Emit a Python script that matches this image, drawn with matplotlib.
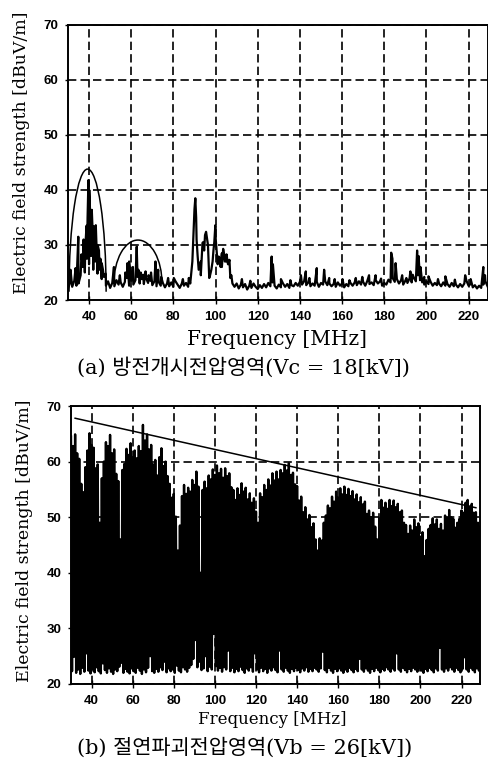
import numpy as np
import matplotlib.pyplot as plt
from matplotlib.patches import Arc

# ---- (a) discharge inception region: baseline per MHz + narrow spikes ----
freq_a = np.arange(30, 230)
level_a = [
    22.0, 23.2, 22.4, 23.5, 22.6, 23.0, 24.5, 26.0, 25.0, 27.5,  # 30
    26.5, 28.0, 25.5, 27.0, 24.8, 25.5, 23.8, 24.2, 22.6, 23.4,  # 40
    22.2, 23.1, 22.5, 23.6, 22.8, 23.2, 22.4, 23.3, 24.0, 22.6,  # 50
    23.5, 22.8, 23.6, 24.2, 23.0, 23.8, 22.9, 24.0, 23.1, 23.5,  # 60
    22.7, 23.4, 22.5, 23.3, 22.6, 23.1, 22.3, 23.0, 22.5, 23.2,  # 70
    22.4, 23.4, 22.8, 22.2, 23.0, 22.6, 23.1, 22.4, 23.0, 27.0,  # 80
    36.5, 31.0, 25.5, 27.0, 30.5, 31.8, 31.0, 24.0, 25.5, 29.0,  # 90
    31.5, 26.5, 27.5, 26.0, 28.5, 27.0, 26.5, 24.0, 23.0, 22.4,  # 100
    23.0, 22.1, 22.8, 22.3, 22.9, 21.9, 22.6, 22.2, 23.0, 22.4,  # 110
    22.0, 22.7, 22.2, 22.9, 22.3, 23.1, 22.5, 23.2, 22.6, 22.1,  # 120
    22.8, 22.3, 23.0, 22.4, 22.9, 22.2, 22.7, 22.5, 23.1, 22.6,  # 130
    23.3, 22.8, 23.4, 22.7, 23.2, 22.5, 23.0, 22.6, 23.3, 22.4,  # 140
    23.1, 22.8, 23.4, 22.7, 23.0, 22.5, 22.9, 22.4, 23.2, 22.6,  # 150
    23.0, 22.3, 22.9, 22.5, 23.1, 22.6, 23.2, 22.7, 23.4, 22.8,  # 160
    23.3, 22.6, 23.5, 22.9, 23.2, 22.7, 23.6, 23.0, 23.4, 22.6,  # 170
    23.1, 22.8, 23.7, 23.2, 24.0, 23.3, 23.8, 23.0, 23.6, 22.8,  # 180
    23.5, 23.1, 23.9, 23.2, 24.1, 23.4, 24.5, 23.6, 23.2, 22.8,  # 190
    23.4, 22.9, 23.3, 22.6, 23.1, 22.7, 23.0, 22.5, 23.2, 22.6,  # 200
    22.9, 22.4, 23.1, 22.5, 22.8, 22.3, 22.9, 22.4, 23.0, 23.5,  # 210
    22.6, 22.9, 22.3, 22.7, 22.1, 22.6, 22.2, 22.8, 23.4, 22.5,  # 220
]
spike_freq_a = [
    31.2, 33.6, 34.9, 36.4, 37.4, 38.2, 38.8, 39.3, 39.7, 40.1, 40.5, 40.9,
    41.3, 41.8, 42.2, 42.7, 43.2, 43.6, 44.1, 44.7, 45.4, 46.0, 46.6, 47.9,
    51.8, 54.6, 57.2, 58.2, 59.0, 59.5, 60.8, 62.6, 63.4, 64.5, 65.6, 66.8,
    68.2, 69.4, 71.5, 72.8, 74.2, 77.5, 80.2, 84.5, 87.3,
    89.6, 90.4, 90.8, 91.5, 93.0, 93.8, 94.6, 95.5, 96.4, 97.4, 98.6, 99.4,
    99.9, 100.5, 101.5, 102.4, 103.0, 103.6, 104.4, 105.2, 105.9, 106.6, 107.5,
    112.5, 116.5, 126.6, 127.2, 131.0, 135.5, 140.5, 142.8, 144.5, 148.0,
    151.5, 153.9, 156.5, 160.2, 163.5, 166.5, 169.6, 172.8, 175.9, 178.5,
    183.3, 183.9, 185.4, 188.5, 190.5, 192.4, 193.5, 195.6, 196.3, 197.2,
    199.0, 201.0, 205.5, 209.0, 213.5, 218.4, 221.0, 227.0, 227.8,
]
spike_db_a = [
    25.5, 25.8, 31.5, 28.3, 31.0, 29.5, 33.5, 35.0, 41.8, 40.0, 36.0, 33.0,
    36.4, 31.5, 33.4, 30.0, 33.6, 29.0, 30.0, 29.0, 27.5, 26.7, 25.5, 24.8,
    26.0, 24.5, 25.0, 26.7, 27.0, 25.0, 26.0, 29.7, 25.5, 25.0, 24.6, 25.2,
    24.5, 25.0, 27.0, 25.5, 24.2, 24.0, 24.0, 23.8, 24.0,
    33.0, 38.5, 35.0, 28.0, 24.5, 30.3, 29.0, 32.4, 30.0, 24.5, 27.0, 30.5,
    33.6, 29.0, 27.9, 26.0, 28.5, 29.3, 27.0, 28.3, 26.5, 27.3, 24.5,
    23.8, 23.5, 27.9, 26.5, 23.8, 23.6, 24.5, 25.2, 24.0, 25.8,
    25.5, 24.0, 23.8, 23.8, 23.6, 24.0, 24.2, 24.5, 24.5, 23.9,
    28.6, 27.5, 26.7, 24.5, 24.0, 25.2, 24.6, 29.0, 28.0, 26.0,
    24.2, 24.3, 23.8, 24.3, 23.7, 24.5, 23.8, 26.0, 24.5,
]

# hand-drawn envelope arcs in (a)
arc_center = [39.3, 63.2]
arc_width = [17.6, 22.8]
arc_base = [21.5, 23.0]
arc_peak = [43.8, 30.9]

# ---- (b) breakdown region: upper / lower edge of the dense trace per MHz ----
freq_b = np.arange(30, 230)
top_b = [
    64.5, 62.8, 64.9, 61.5, 60.5, 56.0, 54.5, 59.0, 62.0, 65.1,  # 30
    63.0, 62.5, 58.8, 59.5, 49.0, 57.0, 60.0, 63.5, 62.8, 64.8,  # 40
    61.5, 62.2, 57.8, 56.5, 46.0, 58.5, 59.6, 62.3, 61.2, 63.3,  # 50
    60.8, 62.0, 60.6, 62.8, 61.9, 66.6, 63.8, 64.9, 62.2, 63.0,  # 60
    59.5, 60.3, 57.5, 60.8, 62.4, 59.2, 60.0, 57.4, 56.0, 53.5,  # 70
    54.2, 50.1, 44.0, 48.5, 53.8, 55.8, 54.2, 55.3, 54.6, 56.7,  # 80
    55.8, 58.2, 55.5, 40.0, 54.9, 56.4, 55.2, 57.5, 56.8, 58.6,  # 90
    57.6, 59.3, 57.9, 58.7, 57.1, 58.8, 57.4, 57.9, 55.4, 54.9,  # 100
    53.1, 55.2, 54.0, 56.1, 54.6, 55.3, 53.2, 54.3, 52.6, 53.4,  # 110
    51.0, 49.0, 54.3, 53.6, 55.8, 54.9, 56.8, 55.7, 57.9, 56.6,  # 120
    58.2, 56.8, 58.5, 57.9, 59.4, 58.4, 59.7, 57.6, 58.0, 55.9,  # 130
    55.6, 53.0, 53.7, 50.9, 51.8, 49.6, 50.4, 48.2, 48.9, 46.0,  # 140
    44.0, 46.2, 45.8, 49.0, 50.3, 52.1, 51.6, 53.7, 52.8, 54.6,  # 150
    53.6, 55.2, 54.1, 55.5, 54.0, 55.1, 53.8, 54.7, 53.2, 54.1,  # 160
    52.7, 53.6, 52.3, 52.8, 50.6, 51.2, 50.0, 50.8, 48.3, 46.0,  # 170
    49.8, 53.1, 51.7, 52.6, 51.5, 53.1, 52.0, 53.0, 51.8, 52.4,  # 180
    50.9, 51.2, 49.0, 48.6, 47.0, 48.5, 47.6, 49.6, 48.2, 48.9,  # 190
    46.5, 47.3, 43.0, 45.9, 47.9, 48.6, 49.8, 48.7, 49.6, 47.9,  # 200
    48.8, 47.6, 50.3, 49.9, 51.3, 50.0, 49.7, 48.1, 49.0, 49.7,  # 210
    51.2, 50.8, 52.6, 53.1, 51.9, 52.4, 50.8, 50.9, 49.0, 48.3,  # 220
]
bottom_b = [
    22.3, 24.9, 22.0, 22.6, 21.8, 22.9, 22.2, 25.5, 22.4, 21.9,  # 30
    22.7, 22.1, 23.0, 22.3, 21.9, 23.7, 22.5, 22.0, 22.8, 22.2,  # 40
    21.8, 22.6, 22.3, 23.1, 23.8, 22.0, 22.7, 22.2, 21.9, 22.8,  # 50
    22.3, 22.0, 22.9, 22.4, 21.8, 22.6, 22.1, 22.9, 25.0, 22.3,  # 60
    22.0, 22.7, 22.2, 23.0, 22.5, 24.0, 22.1, 22.8, 22.3, 22.6,  # 70
    22.0, 23.3, 22.4, 22.1, 23.0, 22.6, 22.2, 22.9, 23.4, 24.5,  # 80
    27.9, 23.0, 24.0, 22.5, 22.8, 25.0, 22.3, 23.1, 22.6, 29.0,  # 90
    23.2, 22.4, 22.9, 22.2, 23.0, 22.6, 26.0, 22.3, 22.9, 22.1,  # 100
    22.7, 22.3, 23.1, 22.5, 22.0, 22.8, 22.4, 23.0, 22.2, 25.5,  # 110
    22.6, 22.1, 22.9, 22.3, 22.7, 22.0, 22.8, 22.4, 23.0, 22.5,  # 120
    22.1, 26.0, 22.6, 22.2, 22.9, 22.4, 22.0, 22.7, 22.3, 22.9,  # 130
    22.5, 22.1, 22.8, 22.4, 23.0, 22.2, 22.7, 22.3, 22.9, 22.6,  # 140
    22.2, 22.8, 25.8, 22.5, 22.1, 22.9, 22.4, 22.0, 22.7, 22.3,  # 150
    22.8, 22.4, 22.0, 22.6, 22.2, 22.9, 22.5, 22.1, 22.7, 22.3,  # 160
    24.5, 22.6, 22.2, 22.8, 22.4, 22.0, 22.7, 22.3, 22.9, 22.5,  # 170
    22.1, 22.7, 22.4, 23.0, 22.6, 22.2, 22.8, 22.4, 25.5, 22.6,  # 180
    22.2, 22.9, 22.5, 22.1, 22.7, 22.3, 22.9, 22.6, 22.2, 22.8,  # 190
    22.4, 22.0, 22.7, 22.3, 22.9, 22.5, 22.1, 22.8, 22.4, 26.5,  # 200
    22.6, 22.2, 22.8, 22.4, 23.0, 22.6, 22.2, 22.9, 22.5, 22.1,  # 210
    22.7, 24.8, 22.6, 22.2, 22.9, 22.5, 22.1, 22.8, 22.4, 23.0,  # 220
]

# straight limit line drawn over (b)
limit_freq = [32, 227]
limit_db = [67.8, 51.7]

xticks = [40, 60, 80, 100, 120, 140, 160, 180, 200, 220]
yticks = [20, 30, 40, 50, 60, 70]

YLABEL = "Electric field strength [dBuV/m]"
XLABEL = "Frequency [MHz]"
CAPTION_A = "(a) 방전개시전압영역(Vc = 18[kV])"
CAPTION_B = "(b) 절연파괴전압영역(Vb = 26[kV])"
SERIF = ["DejaVu Serif"]
KOREAN = ["DejaVu Serif", "Noto Sans CJK KR"]


def style_axes(ax):
    ax.set_xlim(30, 229)
    ax.set_ylim(20, 70)
    ax.set_xticks(xticks)
    ax.set_yticks(yticks)
    ax.grid(True, color="black", linestyle=(0, (5, 2.5)), linewidth=1.2)
    ax.set_axisbelow(True)
    for s in ax.spines.values():
        s.set_linewidth(1.4)
    ax.tick_params(axis="x", direction="inout", length=6, width=1, pad=5)
    ax.tick_params(axis="y", direction="out", length=2, width=1, pad=5)
    for lab in ax.get_xticklabels() + ax.get_yticklabels():
        lab.set_fontfamily("Liberation Sans")
        lab.set_fontweight("bold")
        lab.set_fontsize(9.5)


fig = plt.figure(figsize=(4.89, 7.76), dpi=100)

# ---- panel (a) ----
ax_a = fig.add_axes([0.139, 0.6134, 0.858, 0.3544])
style_axes(ax_a)
f_all = np.concatenate([freq_a, spike_freq_a])
db_all = np.concatenate([level_a, spike_db_a])
order = np.argsort(f_all)
ax_a.plot(f_all[order], db_all[order], color="black", linewidth=1.6)
for c, w, b, p in zip(arc_center, arc_width, arc_base, arc_peak):
    ax_a.add_patch(Arc((c, b), w, 2 * (p - b), theta1=0, theta2=180,
                       color="black", linewidth=1.1))
ax_a.set_ylabel(YLABEL, family=SERIF, fontsize=12.5)
ax_a.yaxis.set_label_coords(-0.09, 0.535)
fig.text(0.5665, 0.5619, XLABEL, family=SERIF, fontsize=14.5, ha="center", va="center")
fig.text(0.498, 0.527, CAPTION_A, family=KOREAN, fontsize=15, ha="center", va="center")

# ---- panel (b) ----
ax_b = fig.add_axes([0.1452, 0.1186, 0.8364, 0.3582])
style_axes(ax_b)
zig_f = np.column_stack([freq_b, freq_b + 0.5]).ravel()
zig_db = np.column_stack([top_b, bottom_b]).ravel()
ax_b.plot(zig_f, zig_db, color="black", linewidth=1.7)
ax_b.plot(limit_freq, limit_db, color="black", linewidth=1.1)
ax_b.set_ylabel(YLABEL, family=SERIF, fontsize=12.5)
ax_b.yaxis.set_label_coords(-0.093, 0.515)
fig.text(0.556, 0.0722, XLABEL, family=SERIF, fontsize=12, ha="center", va="center")
fig.text(0.5, 0.0361, CAPTION_B, family=KOREAN, fontsize=15, ha="center", va="center")

fig.savefig("out.png", dpi=100)
